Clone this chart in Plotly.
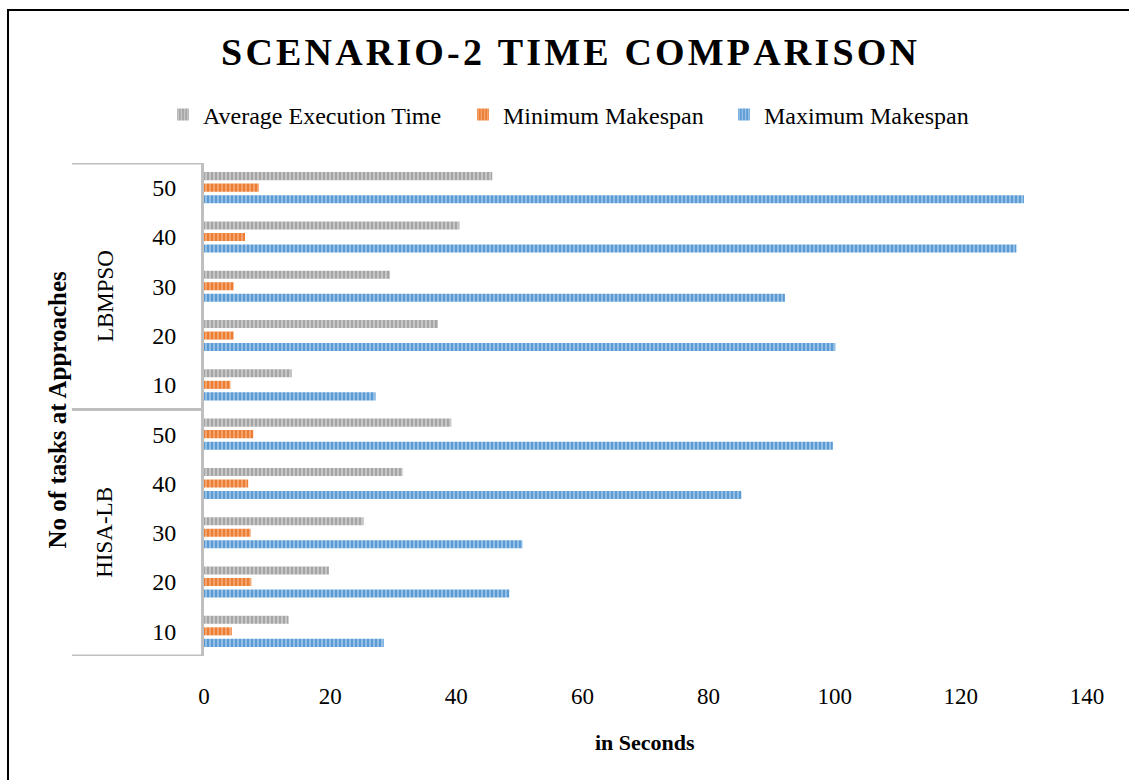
import plotly.graph_objects as go

# Task counts per approach (category ticks) and approach names
tasks = [10, 20, 30, 40, 50]
approaches = ["HISA-LB", "LBMPSO"]

# Times in seconds, ordered by task count 10..50
hisa_avg = [13.4, 19.8, 25.3, 31.5, 39.2]
hisa_min = [4.4, 7.5, 7.4, 7.0, 7.8]
hisa_max = [28.5, 48.4, 50.5, 85.2, 99.7]

lbmpso_avg = [13.9, 37.1, 29.5, 40.5, 45.7]
lbmpso_min = [4.2, 4.7, 4.7, 6.5, 8.7]
lbmpso_max = [27.2, 100.1, 92.1, 128.8, 130.0]

series_names = ["Average Execution Time", "Minimum Makespan", "Maximum Makespan"]
x_ticks = [0, 20, 40, 60, 80, 100, 120, 140]

FONT = "Liberation Serif, Times New Roman, serif"

# one category per (approach, task count), bottom to top
categories = [f"{a} {t}" for a in approaches for t in tasks]
tick_text = [str(t) for a in approaches for t in tasks]

avg_vals = hisa_avg + lbmpso_avg
min_vals = hisa_min + lbmpso_min
max_vals = hisa_max + lbmpso_max

# colour, stripe colour, values, legend id, legend left edge (px)
styles = {
    "Average Execution Time": ("#a5a5a5", "#cfcfcf", avg_vals, "legend", 163),
    "Minimum Makespan": ("#ed7d31", "#f5ad7c", min_vals, "legend2", 463),
    "Maximum Makespan": ("#5b9bd5", "#a3c8ea", max_vals, "legend3", 724),
}

W, H = 1129, 780

fig = go.Figure()
# horizontal groups stack the first trace lowest, so add them bottom-up
for name in reversed(series_names):
    color, stripe, vals, leg, _ = styles[name]
    fig.add_trace(go.Bar(
        name=name,
        y=categories,
        x=vals,
        orientation="h",
        legend=leg,
        showlegend=True,
        marker=dict(
            color=color,
            line=dict(width=0),
            pattern=dict(shape="|", size=4, solidity=0.4,
                         fgcolor=stripe, bgcolor=color, fillmode="replace"),
        ),
    ))

# plot-area geometry in pixels (used to place paper-referenced extras)
L, R, T, B = 204, 42, 163, 124
pw, ph = W - L - R, H - T - B


def px_x(x):
    return (x - L) / pw


def px_y(y):
    return (H - B - y) / ph


title_text = "\u200a".join(list("SCENARIO-2 TIME COMPARISON"))

shapes = []
# category bracket lines at the group boundaries
for yv in (-0.5, 4.5, 9.5):
    shapes.append(dict(type="line", xref="paper", yref="y",
                       x0=px_x(72), x1=0, y0=yv, y1=yv,
                       line=dict(color="#bfbfbf", width=3)))
# chart frame
shapes.append(dict(type="rect", xref="paper", yref="paper",
                   x0=px_x(8), x1=px_x(1140), y0=px_y(790), y1=px_y(10),
                   line=dict(color="#000000", width=2), fillcolor="rgba(0,0,0,0)",
                   layer="above"))

annotations = []
for idx, a in zip((2.0, 6.8), approaches):
    annotations.append(dict(text=a, xref="paper", yref="y", x=px_x(105), y=idx,
                            textangle=-90, showarrow=False, xanchor="center",
                            yanchor="middle", font=dict(family=FONT, size=23, color="#000")))
annotations.append(dict(text="<b>No of tasks at Approaches</b>", xref="paper", yref="paper",
                        x=px_x(57), y=0.5, textangle=-90, showarrow=False,
                        xanchor="center", yanchor="middle",
                        font=dict(family=FONT, size=25, color="#000")))
annotations.append(dict(text="<b>in Seconds</b>", xref="paper", yref="paper",
                        x=px_x(645), y=px_y(742), showarrow=False,
                        xanchor="center", yanchor="middle",
                        font=dict(family=FONT, size=22, color="#000")))


def legend_at(left_px):
    return dict(visible=True, orientation="h", xref="container", yref="container",
                x=left_px / W, xanchor="left", y=1 - 115 / H, yanchor="middle",
                bgcolor="rgba(0,0,0,0)",
                font=dict(family=FONT, size=24, color="#000"),
                itemclick=False, itemdoubleclick=False)


fig.update_layout(
    width=W, height=H,
    showlegend=True,
    margin=dict(l=L, r=R, t=T, b=B, autoexpand=False),
    paper_bgcolor="white", plot_bgcolor="white",
    font=dict(family=FONT, size=22, color="#000"),
    barmode="group", bargap=0.3, bargroupgap=0.3,
    title=dict(text=f"<b>{title_text}</b>", x=569 / W, xref="container", xanchor="center",
               y=1 - 52 / H, yref="container", yanchor="middle",
               font=dict(family=FONT, size=38, color="#000")),
    legend=legend_at(styles["Average Execution Time"][4]),
    legend2=legend_at(styles["Minimum Makespan"][4]),
    legend3=legend_at(styles["Maximum Makespan"][4]),
    xaxis=dict(range=[0, 140], tickvals=x_ticks, showgrid=False, zeroline=False,
               showline=False, ticks="", ticklabelstandoff=24,
               tickfont=dict(family=FONT, size=23, color="#000")),
    yaxis=dict(type="category", categoryorder="array", categoryarray=categories,
               tickvals=categories, ticktext=tick_text, showgrid=False,
               showline=True, linecolor="#bfbfbf", linewidth=3, ticks="",
               ticklabelstandoff=20, range=[-0.5, 9.5],
               tickfont=dict(family=FONT, size=24, color="#000")),
    shapes=shapes,
    annotations=annotations,
)

fig.write_html("out.html")
